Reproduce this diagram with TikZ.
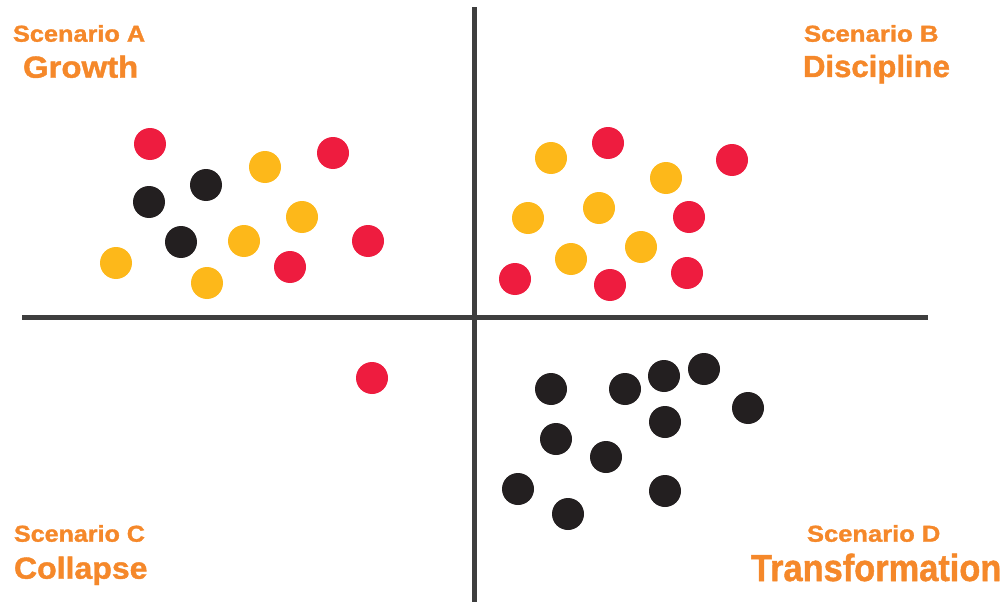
\documentclass[tikz,border=0pt]{standalone}
\usepackage{fontspec}
\setmainfont{Liberation Sans}
\newfontfamily\labfont{Liberation Sans}[FakeBold=1.3]
\usepackage{graphicx}
\definecolor{dotred}{HTML}{EE1C3F}
\definecolor{dotyel}{HTML}{FDB81A}
\definecolor{dotblk}{HTML}{231F20}
\definecolor{axisc}{HTML}{3E3E3E}
\definecolor{labc}{HTML}{F5882A}
\tikzset{
  dot/.style={circle, minimum size=32pt, inner sep=0pt, outer sep=0pt},
  rdot/.style={dot, fill=dotred},
  ydot/.style={dot, fill=dotyel},
  bdot/.style={dot, fill=dotblk},
  axisline/.style={draw=axisc, line width=5pt},
  lab/.style={anchor=base west, inner sep=0pt, outer sep=0pt, text=labc, font=\labfont\bfseries},
}
\newcommand\smalllab[2]{\scalebox{#1}[1]{\fontsize{23pt}{23pt}\selectfont #2}}
\newcommand\biglab[3]{\scalebox{#1}[1]{\fontsize{#2}{#2}\selectfont #3}}
\begin{document}
\begin{tikzpicture}[x=1pt,y=-1pt]
\useasboundingbox (0,0) rectangle (1005,602);
% axes
\coordinate (vt) at (474,7.5);
\coordinate (vb) at (474,602);
\coordinate (hl) at (22,317);
\coordinate (hr) at (927.5,317);
\draw[axisline] (vt) -- (vb);
\draw[axisline] (hl) -- (hr);
% labels
\node[lab] (sa) at (13,41.7) {\smalllab{1.10}{Scenario A}};
\node[lab] (ga) at (23,77.7) {\biglab{1.08}{30.5pt}{Growth}};
\node[lab] (sb) at (804,41.7) {\smalllab{1.12}{Scenario B}};
\node[lab] (gb) at (803,77) {\biglab{1.02}{30.5pt}{Discipline}};
\node[lab] (sc) at (14,541.7) {\smalllab{1.09}{Scenario C}};
\node[lab] (gc) at (14,578.7) {\biglab{1.05}{30.5pt}{Collapse}};
\node[lab] (sd) at (807,541.7) {\smalllab{1.11}{Scenario D}};
\node[lab] (gd) at (751,581) {\biglab{0.91}{37.8pt}{Transformation}};
% Quadrant A
\node[rdot] (a1) at (150,144) {};
\node[bdot] (a2) at (149,202) {};
\node[bdot] (a3) at (206,185) {};
\node[ydot] (a4) at (265,167) {};
\node[rdot] (a5) at (333,153) {};
\node[ydot] (a6) at (302,217) {};
\node[bdot] (a7) at (181,242) {};
\node[ydot] (a8) at (244,241) {};
\node[ydot] (a9) at (116,263) {};
\node[ydot] (a10) at (207,283) {};
\node[rdot] (a11) at (290,267) {};
\node[rdot] (a12) at (368,241) {};
% Quadrant B
\node[ydot] (b1) at (551,158) {};
\node[rdot] (b2) at (608,143) {};
\node[ydot] (b3) at (666,178) {};
\node[rdot] (b4) at (732,160) {};
\node[ydot] (b5) at (528,218) {};
\node[ydot] (b6) at (599,208) {};
\node[rdot] (b7) at (689,217) {};
\node[ydot] (b8) at (641,247) {};
\node[ydot] (b9) at (571,259) {};
\node[rdot] (b10) at (515,279) {};
\node[rdot] (b11) at (610,285) {};
\node[rdot] (b12) at (687,273) {};
% Quadrant C
\node[rdot] (c1) at (372,378) {};
% Quadrant D
\node[bdot] (d1) at (551,389) {};
\node[bdot] (d2) at (625,389) {};
\node[bdot] (d3) at (664,376) {};
\node[bdot] (d4) at (704,369) {};
\node[bdot] (d5) at (748,408) {};
\node[bdot] (d6) at (665,422) {};
\node[bdot] (d7) at (556,439) {};
\node[bdot] (d8) at (606,457) {};
\node[bdot] (d9) at (518,489) {};
\node[bdot] (d10) at (568,514) {};
\node[bdot] (d11) at (665,491) {};
\end{tikzpicture}
\end{document}
